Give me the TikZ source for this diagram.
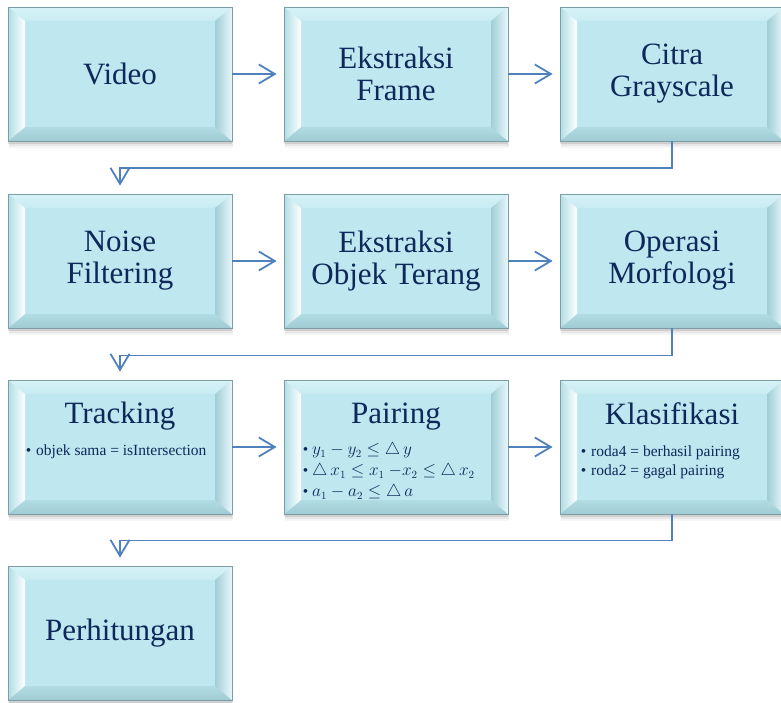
\documentclass[tikz,border=0pt]{standalone}
\usepackage{fontspec}
\setmainfont{Liberation Serif}
\usetikzlibrary{arrows.meta,calc,shadows}
\definecolor{face}{RGB}{190,231,239}
\definecolor{topout}{RGB}{214,242,247}
\definecolor{topin}{RGB}{200,236,242}
\definecolor{leftout}{RGB}{176,221,229}
\definecolor{botout}{RGB}{160,203,211}
\definecolor{botin}{RGB}{178,220,228}
\definecolor{rightin}{RGB}{160,206,215}
\definecolor{rightout}{RGB}{232,247,250}
\definecolor{edge}{RGB}{125,158,164}
\definecolor{navy}{RGB}{14,40,90}
\definecolor{arrowc}{RGB}{79,129,189}
\newcommand{\bvx}{17pt}
\newcommand{\bvy}{14pt}
\tikzset{
  bevelbox/.style={rectangle, minimum width=224pt, minimum height=134pt, inner sep=0pt,
    fill=face, draw=edge, line width=0.8pt, text=navy, align=center,
    font=\fontsize{31}{32}\selectfont,
    general shadow={fill=black, opacity=0.04, shadow xshift=1pt, shadow yshift=-7pt},
    general shadow={fill=black, opacity=0.06, shadow xshift=0.5pt, shadow yshift=-5pt},
    general shadow={fill=black, opacity=0.10, shadow xshift=0pt, shadow yshift=-3pt},
    path picture={
      \coordinate (nw) at (path picture bounding box.north west);
      \coordinate (ne) at (path picture bounding box.north east);
      \coordinate (sw) at (path picture bounding box.south west);
      \coordinate (se) at (path picture bounding box.south east);
      \shade[top color=topout, bottom color=topin]
        (nw) -- (ne) -- ([xshift=-\bvx,yshift=-\bvy]ne) -- ([xshift=\bvx,yshift=-\bvy]nw) -- cycle;
      \shade[top color=botin, bottom color=botout]
        (sw) -- (se) -- ([xshift=-\bvx,yshift=\bvy]se) -- ([xshift=\bvx,yshift=\bvy]sw) -- cycle;
      \shade[left color=leftout, right color=white]
        (nw) -- (sw) -- ([xshift=\bvx,yshift=\bvy]sw) -- ([xshift=\bvx,yshift=-\bvy]nw) -- cycle;
      \shade[left color=rightin, right color=rightout]
        (ne) -- (se) -- ([xshift=-\bvx,yshift=\bvy]se) -- ([xshift=-\bvx,yshift=-\bvy]ne) -- cycle;
    }
  },
  titlelbl/.style={inner sep=0pt, text=navy, font=\fontsize{31}{32}\selectfont, anchor=base},
  bulletlbl/.style={inner sep=0pt, text=navy, font=\fontsize{15.5}{19}\selectfont, anchor=base west},
  mathlbl/.style={inner sep=0pt, text=navy, font=\fontsize{16}{19}\selectfont, anchor=base west},
  arr/.style={draw=arrowc, line width=1.8pt, -{Straight Barb[length=16pt,width=19pt]}},
}
\newcommand{\bul}{\textbullet\hspace{5pt}}
\newcommand{\mbul}{{\fontsize{15.5}{19}\selectfont\textbullet}\hspace{4pt}}
\begin{document}
\begin{tikzpicture}[x=1pt,y=-1pt]
\useasboundingbox (0,0) rectangle (781,703);
% row 1
\node[bevelbox] (vid) at (120,74) {Video};
\node[bevelbox] (ef) at (396,74) {Ekstraksi\\Frame};
\node[bevelbox] (cg) at (672,74) {Citra\\Grayscale};
% row 2
\node[bevelbox] (nf) at (120,261) {Noise\\Filtering};
\node[bevelbox] (eot) at (396,261) {Ekstraksi\\Objek Terang};
\node[bevelbox] (om) at (672,261) {Operasi\\Morfologi};
% row 3
\node[bevelbox] (tr) at (120,447) {};
\node[bevelbox] (pa) at (396,447) {};
\node[bevelbox] (kl) at (672,447) {};
% row 4
\node[bevelbox] (ph) at (120,633) {Perhitungan};
% row 3 texts
\node[titlelbl] (trt) at ($(tr.north)+(0,44)$) {Tracking};
\node[bulletlbl] (trb) at ($(tr.north west)+(18,76)$) {\bul objek sama = isIntersection};
\node[titlelbl] (pat) at ($(pa.north)+(0,44)$) {Pairing};
\node[mathlbl] (pab1) at ($(pa.north west)+(19,75)$) {\mbul$y_1 - y_2 \leq \triangle\, y$};
\node[mathlbl] (pab2) at ($(pa.north west)+(19,96)$) {\mbul$\triangle\, x_1 \leq x_1\ {-}x_2 \leq \triangle\, x_2$};
\node[mathlbl] (pab3) at ($(pa.north west)+(19,117)$) {\mbul$a_1 - a_2 \leq \triangle\, a$};
\node[titlelbl] (klt) at ($(kl.north)+(0,45)$) {Klasifikasi};
\node[bulletlbl] (klb1) at ($(kl.north west)+(21,77)$) {\bul roda4 = berhasil pairing};
\node[bulletlbl] (klb2) at ($(kl.north west)+(21,96)$) {\bul roda2 = gagal pairing};
% connectors
\draw[arr, shorten >=7pt] (vid.east) -- (ef.west);
\draw[arr, shorten >=7pt] (ef.east) -- (cg.west);
\draw[arr, shorten >=7pt] (nf.east) -- (eot.west);
\draw[arr, shorten >=7pt] (eot.east) -- (om.west);
\draw[arr, shorten >=7pt] (tr.east) -- (pa.west);
\draw[arr, shorten >=7pt] (pa.east) -- (kl.west);
\draw[arr, shorten >=8pt] (cg.south) -- ++(0,27) -| (nf.north);
\draw[arr, shorten >=8pt] (om.south) -- ++(0,27) -| (tr.north);
\draw[arr, shorten >=8pt] (kl.south) -- ++(0,26) -| (ph.north);
\end{tikzpicture}
\end{document}
